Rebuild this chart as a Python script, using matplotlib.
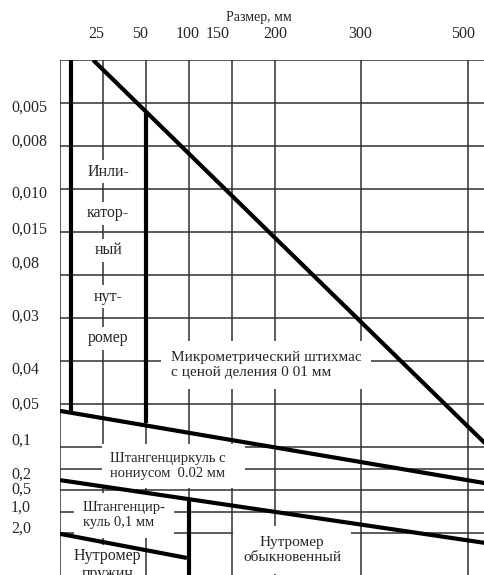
import matplotlib
matplotlib.use("Agg")
import matplotlib.pyplot as plt

plt.rcParams["font.family"] = ["Liberation Serif", "DejaVu Serif"]

# chart units: one grid cell = 1 unit (43 px in the reference)
size_labels = ["25", "50", "100", "150", "200", "300", "500"]
size_label_pos = [0.84, 1.86, 2.98, 3.67, 5.0, 6.98, 9.37]

err_labels = ["0,005", "0,008", "0,010", "0,015", "0,08", "0,03", "0,04",
              "0,05", "0,1", "0,2", "0,5", "1,0", "2,0"]
err_label_pos = [1.05, 1.86, 3.07, 3.91, 4.70, 5.93, 7.16,
                 7.98, 8.81, 9.60, 9.95, 10.37, 10.86]

grid_cols = [0, 1, 2, 3, 4, 5, 7, 9.5]
grid_rows = [0, 1, 2, 3, 4, 5, 6, 7, 8, 9, 9.5, 10, 10.5, 11]

# region boundaries (x, y) in grid units
indicator_left = ([0.26, 0.26], [0.0, 8.16])
indicator_right = ([2.0, 2.0], [1.23, 8.44])
micrometer_limit = ([0.77, 10.3], [0.0, 9.32])
vernier002_top = ([0.0, 9.88], [8.16, 9.84])
vernier01_top = ([0.0, 9.88], [9.77, 11.23])
spring_top = ([0.0, 2.95], [11.02, 11.58])
vernier01_right = ([3.0, 3.0], [10.26, 12.2])
boundaries = [indicator_left, indicator_right, micrometer_limit,
              vernier002_top, vernier01_top, spring_top, vernier01_right]

indicator_words = ["Инли-", "катор-", "ный", "нут-", "ромер"]
indicator_word_y = [2.60, 3.56, 4.42, 5.51, 6.47]

fig = plt.figure(figsize=(4.85, 5.75), dpi=100)
ax = fig.add_axes([60 / 485, 0, 425 / 485, 515 / 575])
ax.set_xlim(0, 425 / 43)
ax.set_ylim(515 / 43, 0)
for s in ax.spines.values():
    s.set_visible(False)

ink = "#262626"
ax.vlines(grid_cols, 0, 13, color="#303030", lw=1.1, zorder=1)
ax.hlines(grid_rows, 0, 11, color="#303030", lw=1.1, zorder=1)

for xs, ys in boundaries:
    ax.plot(xs, ys, color="black", lw=3.0, solid_capstyle="butt", zorder=4)

ax.xaxis.tick_top()
ax.set_xticks(size_label_pos, size_labels)
ax.set_yticks(err_label_pos, err_labels)
ax.tick_params(axis="x", length=0, pad=19, labelsize=11.5, labelcolor=ink)
ax.tick_params(axis="y", length=0, pad=35.3, labelsize=11.5, labelcolor=ink)
for lab in ax.get_xticklabels():
    lab.set_va("center")
for lab in ax.get_yticklabels():
    lab.set_ha("left")

ax.xaxis.set_label_position("top")
ax.set_xlabel("Размер, мм", fontsize=10, color=ink)
ax.xaxis.set_label_coords(199 / 425, 1 + 43 / 515)
ax.xaxis.label.set_va("center")

white = dict(facecolor="white", edgecolor="none", pad=2.5)
for word, y in zip(indicator_words, indicator_word_y):
    ax.text(1.12, y, word, fontsize=11.5, color=ink, ha="center",
            va="center", bbox=white, zorder=3)

ax.text(2.58, 7.09, "Микрометрический штихмас\nс ценой деления 0 01 мм",
        fontsize=11, color=ink, ha="left", va="center", linespacing=1.2,
        bbox=dict(facecolor="white", edgecolor="none", pad=7), zorder=3)
ax.text(1.16, 9.44, "Штангенциркуль с   \nнониусом  0.02 мм",
        fontsize=10.5, color=ink, ha="left", va="center", linespacing=1.2,
        bbox=dict(facecolor="white", edgecolor="none", pad=6), zorder=3)
ax.text(0.53, 10.59, "Штангенцир-\nкуль 0,1 мм",
        fontsize=10.5, color=ink, ha="left", va="center", linespacing=1.2,
        bbox=dict(facecolor="white", edgecolor="none", pad=6), zorder=3)
ax.text(1.10, 11.74, "Нутромер\nпружин",
        fontsize=11.5, color=ink, ha="center", va="center", linespacing=1.15,
        bbox=dict(facecolor="white", edgecolor="none", pad=2), zorder=3)
ax.text(5.40, 11.40, "Нутромер\nобыкновенный",
        fontsize=11, color=ink, ha="center", va="center", linespacing=1.2,
        bbox=dict(facecolor="white", edgecolor="none", pad=7), zorder=3)

fig.savefig("out.png", dpi=100)
